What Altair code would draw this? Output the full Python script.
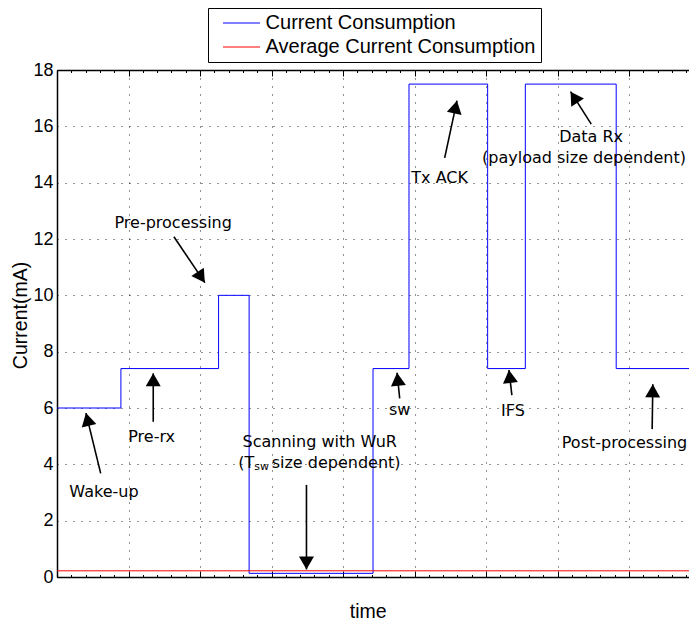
import math
import altair as alt
import pandas as pd

# ---- data (time in arbitrary units, 1 unit = one grid cell) ----
step_time = [0.0, 0.894, 2.260, 2.687, 4.420, 4.923, 6.023, 6.550, 7.821, 8.92]
step_current = [6.0, 7.4, 10.0, 0.13, 7.4, 17.5, 7.4, 17.5, 7.4, 7.4]
avg_time = [0.0, 8.92]
avg_current = [0.22, 0.22]
series_names = ["Current Consumption", "Average Current Consumption"]
series_colors = ["#0000ff", "#ff0000"]

y_ticks = list(range(0, 19, 2))
x_major = list(range(0, 9))
x_minor = [round(i * 0.2, 1) for i in range(0, 45)]

labels = ["Wake-up", "Pre-rx", "Pre-processing", "Scanning with WuR", "sw", "IFS",
          "Post-processing", "Tx ACK", "Data Rx", "(payload size dependent)"]
label_x = [0.657, 1.323, 1.625, 3.675, 4.793, 6.377, 7.937, 5.352, 7.47, 7.37]
label_y = [3.02, 4.98, 12.58, 4.80, 5.93, 5.89, 4.77, 14.15, 15.61, 14.86]

# second line of the scanning label: "(T" + subscript "sw" + "size dependent)"
sub_parts = ["(T", "sw", "size dependent)"]
sub_x = 2.534
sub_y = 4.04

arrow_start_x = [0.611, 1.346, 1.635, 3.489, 4.793, 6.362, 8.324, 5.422, 7.472]
arrow_start_y = [3.68, 5.51, 12.08, 3.27, 6.34, 6.46, 5.25, 14.88, 16.08]
arrow_tip_x = [0.405, 1.346, 2.068, 3.489, 4.756, 6.321, 8.333, 5.594, 7.183]
arrow_tip_y = [5.82, 7.23, 10.45, 0.27, 7.25, 7.35, 6.84, 16.91, 17.23]

# ---- layout ----
W, H = 632, 507
PX_PER_UNIT = 71.5
X_DOM, Y_DOM = [0, W / PX_PER_UNIT], [0, 18]
kx = W / (X_DOM[1] - X_DOM[0])
ky = H / (Y_DOM[1] - Y_DOM[0])

lines_df = pd.concat([
    pd.DataFrame({"t": step_time, "c": step_current, "series": series_names[0]}),
    pd.DataFrame({"t": avg_time, "c": avg_current, "series": series_names[1]}),
])
text_df = pd.DataFrame({"x": label_x, "y": label_y, "label": labels})
arrow_df = pd.DataFrame({"sx": arrow_start_x, "sy": arrow_start_y,
                         "tx": arrow_tip_x, "ty": arrow_tip_y})
arrow_df["angle"] = [
    math.degrees(math.atan2((tx - sx) * kx, (ty - sy) * ky)) % 360
    for sx, sy, tx, ty in zip(arrow_start_x, arrow_start_y, arrow_tip_x, arrow_tip_y)
]
sub_df = pd.DataFrame({"x": [sub_x] * 3, "y": [sub_y] * 3, "label": sub_parts})

xs = alt.Scale(domain=X_DOM, nice=False, zero=False)
ys = alt.Scale(domain=Y_DOM, nice=False, zero=False)

grid_style = dict(gridColor="#000000", gridDash=[1, 7], gridWidth=1, gridOpacity=0.85)
dom_style = dict(domain=True, domainColor="black", domainWidth=1.5)

main_x_axis = alt.Axis(orient="bottom", values=x_major, ticks=False, tickSize=0, labels=False,
                       grid=True, title="time", titleX=310.7, titleY=40,
                       titleAlign="center", titleBaseline="alphabetic", titleFontSize=19.5,
                       **grid_style, **dom_style)
main_y_axis = alt.Axis(orient="left", values=y_ticks, ticks=False, tickSize=0,
                       labelPadding=4, labelFontSize=18, grid=True, title="Current(mA)",
                       titleAngle=270, titleX=-36.5, titleY=245, titleAlign="center",
                       titleBaseline="middle", titleFontSize=19.5, **grid_style, **dom_style)


def tick_axis(orient, values, size):
    return alt.Axis(orient=orient, values=values, ticks=True, tickSize=size, tickWidth=1,
                    tickColor="black", offset=-size, domain=False, labels=False,
                    grid=False, title=None)


top_frame_axis = alt.Axis(orient="top", ticks=False, tickSize=0, labels=False, grid=False,
                          title=None, **dom_style)

legend = alt.Legend(orient="none", legendX=151, legendY=-62, title=None,
                    symbolType="M0,0L5,0", symbolSize=219, symbolStrokeWidth=1,
                    labelFont="Liberation Sans", labelFontSize=20, labelColor="black",
                    labelOffset=32.6, labelLimit=500, rowPadding=4, padding=5)

lines = alt.Chart(lines_df).mark_line(interpolate="step-after", strokeWidth=1, clip=True).encode(
    x=alt.X("t:Q", scale=xs, axis=main_x_axis),
    y=alt.Y("c:Q", scale=ys, axis=main_y_axis),
    color=alt.Color("series:N", scale=alt.Scale(domain=series_names, range=series_colors),
                    legend=legend),
    order=alt.Order("t:Q"),
)


def axis_layer(axis):
    return alt.Chart(lines_df).mark_point(opacity=0).encode(
        x=alt.X("t:Q", scale=xs, axis=axis),
        y=alt.Y("c:Q", scale=ys, axis=None),
    )


shafts = alt.Chart(arrow_df).mark_rule(color="black", strokeWidth=1.6).encode(
    x=alt.X("sx:Q", scale=xs, axis=None),
    y=alt.Y("sy:Q", scale=ys, axis=None),
    x2="tx:Q",
    y2="ty:Q",
)
heads = alt.Chart(arrow_df).mark_point(
    shape="M0,0L-0.577,1L0.577,1Z", filled=True, color="black", opacity=1,
    size=676, strokeWidth=0
).encode(
    x=alt.X("tx:Q", scale=xs, axis=None),
    y=alt.Y("ty:Q", scale=ys, axis=None),
    angle=alt.Angle("angle:Q", scale=None),
)
texts = alt.Chart(text_df).mark_text(
    font="DejaVu Sans", fontSize=16, color="black", align="center", baseline="middle"
).encode(
    x=alt.X("x:Q", scale=xs, axis=None),
    y=alt.Y("y:Q", scale=ys, axis=None),
    text="label:N",
)


def sub_text(i, dx, dy, size):
    return alt.Chart(sub_df.iloc[[i]]).mark_text(
        font="DejaVu Sans", fontSize=size, color="black", align="left",
        baseline="middle", dx=dx, dy=dy
    ).encode(
        x=alt.X("x:Q", scale=xs, axis=None),
        y=alt.Y("y:Q", scale=ys, axis=None),
        text="label:N",
    )


chart = alt.layer(
    lines,
    axis_layer(tick_axis("bottom", x_major, 6)),
    axis_layer(tick_axis("bottom", x_minor, 2.5)),
    axis_layer(tick_axis("top", x_major, 6)),
    axis_layer(tick_axis("top", x_minor, 2.5)),
    axis_layer(top_frame_axis),
    shafts,
    heads,
    texts,
    sub_text(0, 0, 0, 16),
    sub_text(1, 16, 4, 11),
    sub_text(2, 33.5, 0, 16),
).resolve_axis(x="independent", y="independent").properties(
    width=W, height=H,
    autosize=alt.AutoSizeParams(type="none"),
    padding={"left": 49, "top": 62, "right": 0, "bottom": 45},
).configure_view(
    strokeWidth=0
).configure_axis(
    labelFont="Liberation Sans", titleFont="Liberation Sans",
    labelColor="black", titleColor="black", titleFontWeight="normal",
).configure_legend(
    strokeColor="black", strokeWidth=1, fillColor="white",
)

chart.save("out.html", embed_options={"renderer": "svg", "actions": False})
